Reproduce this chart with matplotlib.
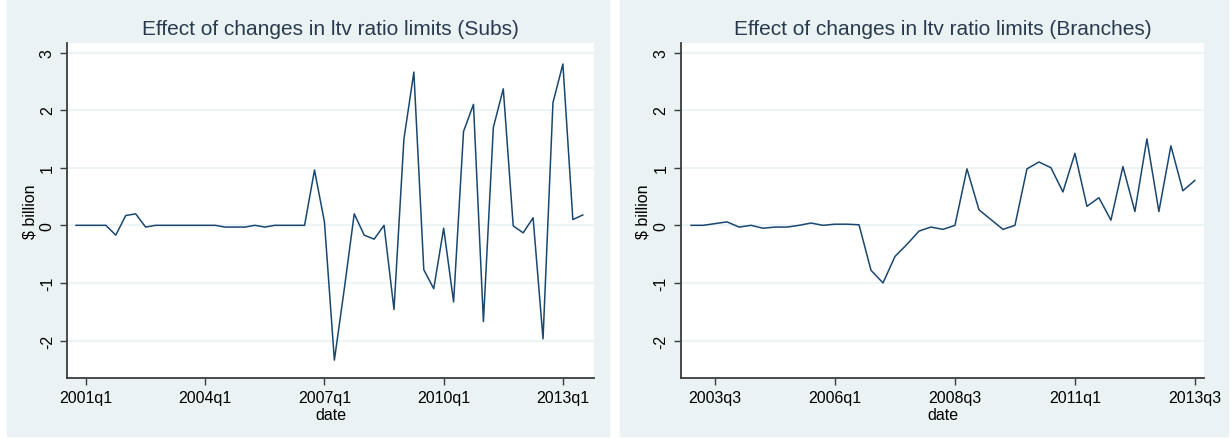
import numpy as np
import pandas as pd
import matplotlib
matplotlib.use("Agg")
import matplotlib.pyplot as plt
from matplotlib.patches import Rectangle

plt.rcParams['font.family'] = ['Liberation Sans', 'DejaVu Sans']

# quarterly effect, $ billion
subs_start = "2000Q4"
subs_values = [0.0, 0.0, 0.0, 0.0, -0.17, 0.17, 0.20, -0.03, 0.0, 0.0,
               0.0, 0.0, 0.0, 0.0, 0.0, -0.03, -0.03, -0.03, 0.0, -0.03,
               0.0, 0.0, 0.0, 0.0, 0.96, 0.06, -2.34, -1.1, 0.20, -0.17,
               -0.24, 0.0, -1.46, 1.5, 2.66, -0.77, -1.1, -0.05, -1.33, 1.63,
               2.1, -1.67, 1.7, 2.37, -0.01, -0.13, 0.13, -1.97, 2.13, 2.8,
               0.10, 0.18]

branch_start = "2003Q1"
branch_values = [0.0, 0.0, 0.03, 0.06, -0.03, 0.0, -0.05, -0.03, -0.03, 0.0,
                 0.04, 0.0, 0.02, 0.02, 0.01, -0.78, -1.0, -0.54, -0.33, -0.1,
                 -0.03, -0.07, 0.0, 0.98, 0.27, 0.1, -0.07, 0.0, 0.98, 1.1,
                 1.0, 0.58, 1.25, 0.33, 0.48, 0.09, 1.02, 0.24, 1.5, 0.24,
                 1.38, 0.6, 0.78]

subs_ticks = ["2001Q1", "2004Q1", "2007Q1", "2010Q1", "2013Q1"]
branch_ticks = ["2003Q3", "2006Q1", "2008Q3", "2011Q1", "2013Q3"]
y_ticks = [-2, -1, 0, 1, 2, 3]

BG = "#EAF2F3"
NAVY = "#1A476F"
AXC = "#3c3c3c"


def qnum(p):
    return p.year + (p.quarter - 1) / 4


def qlabel(p):
    return f"{p.year}q{p.quarter}"


def panel(ax, start, values, ticks, title, xlim):
    periods = pd.period_range(start, periods=len(values), freq="Q")
    x = np.array([qnum(p) for p in periods])
    ax.set_facecolor("white")
    for v in y_ticks:
        ax.axhline(v, color=BG, lw=1.2, zorder=0)
    ax.plot(x, values, color=NAVY, lw=1.1, zorder=2)
    tp = [pd.Period(t, freq="Q") for t in ticks]
    ax.set_xticks([qnum(p) for p in tp])
    ax.set_xticklabels([qlabel(p) for p in tp], fontsize=11.5)
    ax.set_yticks(y_ticks)
    ax.set_yticklabels([str(v) for v in y_ticks], fontsize=11.5,
                       rotation=90, va="center")
    ax.set_xlim(*xlim)
    ax.set_ylim(-2.65, 3.16)
    for s in ["top", "right"]:
        ax.spines[s].set_visible(False)
    for s in ["left", "bottom"]:
        ax.spines[s].set_color(AXC)
        ax.spines[s].set_linewidth(1.3)
    ax.tick_params(direction="out", length=5, width=1, color=AXC, pad=4)
    ax.set_xlabel("date", fontsize=11.5, labelpad=1)
    ax.set_ylabel("$ billion", fontsize=11.5, labelpad=2)
    ax.set_title(title, fontsize=15, color="#2a3a4e", pad=7)


fig = plt.figure(figsize=(12.31, 4.39), dpi=100)
fig.patch.set_facecolor("white")
W, H = 1231, 439
fig.add_artist(Rectangle((7 / W, 2 / H), 602 / W, 436 / H,
                         transform=fig.transFigure, color=BG, zorder=-1))
fig.add_artist(Rectangle((620 / W, 2 / H), 608 / W, 436 / H,
                         transform=fig.transFigure, color=BG, zorder=-1))

ax1 = fig.add_axes([67.3 / W, 60 / H, 526.4 / W, 334.7 / H])
ax2 = fig.add_axes([681 / W, 60 / H, 523 / W, 334.7 / H])

panel(ax1, subs_start, subs_values, subs_ticks,
      "Effect of changes in ltv ratio limits (Subs)", (2000.53, 2013.775))
panel(ax2, branch_start, branch_values, branch_ticks,
      "Effect of changes in ltv ratio limits (Branches)", (2002.79, 2013.69))

fig.savefig("out.png", dpi=100, facecolor=fig.get_facecolor())
